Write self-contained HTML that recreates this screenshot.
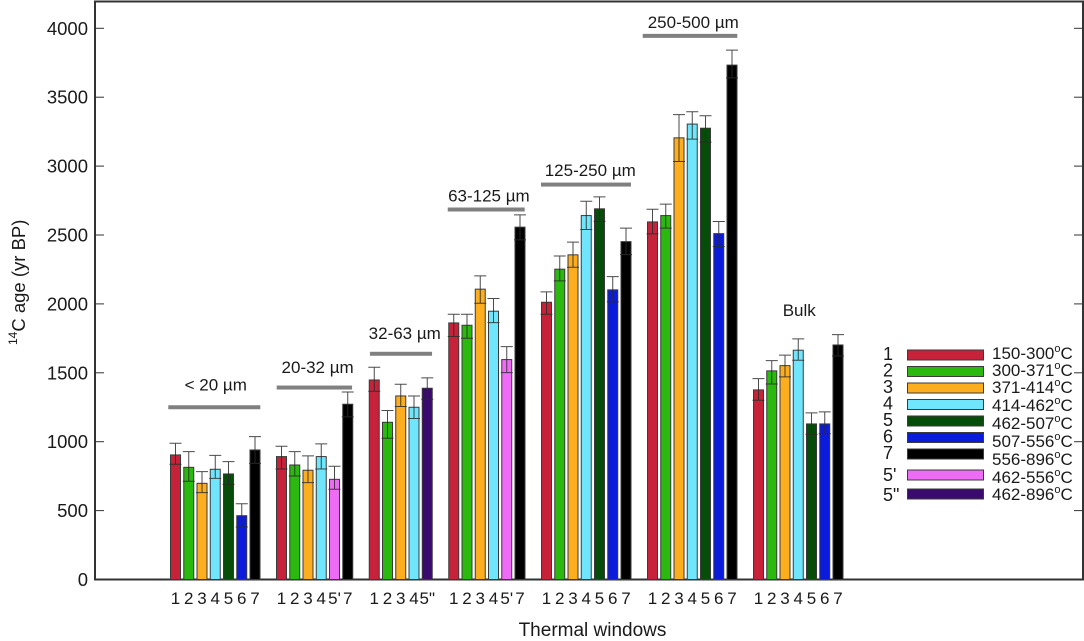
<!DOCTYPE html>
<html lang="en">
<head>
<meta charset="utf-8">
<title>14C age by thermal window and grain size</title>
<style>
html,body{margin:0;padding:0;background:#fff;}
svg{display:block;}
text{font-family:"Liberation Sans",Arial,sans-serif;fill:#1a1a1a;}
</style>
</head>
<body>
<svg id="chart" xmlns="http://www.w3.org/2000/svg" width="1084" height="641" viewBox="0 0 1084 641"></svg>
<script>
const groupNames = ['< 20 µm', '20-32 µm', '32-63 µm', '63-125 µm', '125-250 µm', '250-500 µm', 'Bulk'];
const groupKeys = [
  ['1','2','3','4','5','6','7'],
  ['1','2','3','4',"5'",'7'],
  ['1','2','3','4','5"'],
  ['1','2','3','4',"5'",'7'],
  ['1','2','3','4','5','6','7'],
  ['1','2','3','4','5','6','7'],
  ['1','2','3','4','5','6','7']
];
const ages = [
  [904, 814, 698, 800, 766, 463, 940],
  [892, 831, 793, 892, 727, 1272],
  [1448, 1141, 1332, 1250, 1388],
  [1862, 1845, 2107, 1947, 1596, 2557],
  [2012, 2252, 2356, 2641, 2690, 2102, 2452],
  [2595, 2641, 3205, 3305, 3275, 2510, 3733],
  [1376, 1514, 1552, 1664, 1129, 1129, 1702]
];
const upperBounds = [
  [989, 928, 783, 901, 855, 550, 1037],
  [967, 928, 897, 984, 822, 1361],
  [1540, 1226, 1417, 1332, 1463],
  [1925, 1925, 2203, 2039, 1690, 2646],
  [2087, 2348, 2448, 2745, 2777, 2198, 2550],
  [2687, 2724, 3374, 3394, 3365, 2598, 3842],
  [1458, 1588, 1628, 1746, 1209, 1216, 1777]
];
const lowerBounds = [
  [836, 713, 630, 734, 691, 381, 843],
  [802, 751, 703, 802, 655, 1180],
  [1366, 1025, 1255, 1168, 1308],
  [1763, 1751, 2005, 1864, 1501, 2465],
  [1925, 2167, 2266, 2540, 2600, 2015, 2358],
  [2508, 2550, 3033, 3196, 3174, 2416, 3640],
  [1301, 1419, 1470, 1591, 1054, 1058, 1622]
];
const yTicks = [0, 500, 1000, 1500, 2000, 2500, 3000, 3500, 4000];
const legendKeys = ['1','2','3','4','5','6','7',"5'",'5"'];
const legendRanges = ['150-300','300-371','371-414','414-462','462-507','507-556','556-896','462-556','462-896'];
const legendColors = ['#c6233a','#2bb80f','#fdae1f','#6fe6fb','#064d0a','#0a1bdc','#000000','#ee6bf5','#3b0a6e'];

const NS = 'http://www.w3.org/2000/svg';
const svg = document.getElementById('chart');
const yScale = v => 579.5 - v * 0.1378;
const xScale = slot => 175.5 + slot * 13.25;
const AXIS = '#333333';

function make(tag, attrs, parent) {
  const n = document.createElementNS(NS, tag);
  for (const k in attrs) n.setAttribute(k, attrs[k]);
  (parent || svg).appendChild(n);
  return n;
}
function label(str, x, y, size, anchor, parent) {
  const t = make('text', {x: x, y: y, 'font-size': size, 'text-anchor': anchor || 'middle'}, parent);
  t.textContent = str;
  return t;
}
function slug(s) {
  return s.replace(/'/g, '-prime').replace(/"/g, '-double-prime').replace(/[^a-zA-Z0-9-]+/g, '-').replace(/^-+|-+$/g, '').toLowerCase();
}

/* frame */
const frame = make('rect', {x: 95, y: 1.5, width: 988, height: 578, fill: 'none', stroke: AXIS, 'stroke-width': 2});



/* y ticks */
yTicks.forEach(v => {
  const y = yScale(v);
  if (v > 0) {
    const tl = make('line', {x1: 95, x2: 104, y1: y, y2: y, stroke: AXIS, 'stroke-width': 1});
    
    
    const tr = make('line', {x1: 1074, x2: 1083, y1: y, y2: y, stroke: AXIS, 'stroke-width': 1});
    
    
  }
  const t = label(String(v), 88, y + 6.5, 18.5, 'end');
  
  
});

/* axis titles */
const yTitle = make('text', {transform: 'translate(25,345) rotate(-90)', 'font-size': 18.5, 'text-anchor': 'start'});


const yt1 = make('tspan', {'font-size': 12, dy: -8}, yTitle);
yt1.textContent = '14';
const yt2 = make('tspan', {dy: 8}, yTitle);
yt2.textContent = 'C age (yr BP)';

const xTitle = label('Thermal windows', 592.5, 636, 19);



/* group annotation layout: title offset from group centre, title baseline level and bracket level (axis units), bracket padding in px */
const notes = [
  {dx: 0.5, title: 1370, bracket: 1250, padL: 7.2, padR: 5.3},
  {dx: 3,   title: 1498, bracket: 1393, padL: 4.8, padR: 4.3},
  {dx: 4,   title: 1745, bracket: 1638, padL: 4.3, padR: 4.8},
  {dx: 2,   title: 2743, bracket: 2685, padL: 6,   padR: 4.7},
  {dx: 4,   title: 2928, bracket: 2866, padL: 5.5, padR: 5},
  {dx: 1,   title: 4002, bracket: 3945, padL: 9.8, padR: 5.3},
  {dx: 1,   title: 1912, bracket: null, padL: 0,   padR: 0}
];

/* bars, whiskers, tick labels, brackets — slots advance with one empty slot between groups */
let slot = 0;
groupNames.forEach((name, g) => {
  const keys = groupKeys[g];
  const id = slug(name);
  const first = xScale(slot), last = xScale(slot + keys.length - 1);
  keys.forEach((key, i) => {
    const cx = xScale(slot + i);
    const color = legendColors[legendKeys.indexOf(key)];
    const top = yScale(ages[g][i]);
    const bar = make('rect', {x: cx - 5, y: top, width: 10, height: yScale(0) - top, fill: color, stroke: '#3a3a3a', 'stroke-width': 1});
    
    

    const yUp = yScale(upperBounds[g][i]), yLow = yScale(lowerBounds[g][i]);
    const whisk = make('path', {
      d: 'M' + cx + ' ' + yUp + 'V' + yLow + 'M' + (cx - 6) + ' ' + yUp + 'H' + (cx + 6) + 'M' + (cx - 6) + ' ' + yLow + 'H' + (cx + 6),
      fill: 'none', stroke: '#2a2a2a', 'stroke-width': 1, 'stroke-opacity': 0.85
    });
    
    

    const tick = label(key, cx, 604, 17);
    
    
  });

  const note = notes[g];
  const title = label(name, (first + last) / 2 + note.dx, yScale(note.title), 17);
  
  
  if (note.bracket !== null) {
    const br = make('rect', {x: first - note.padL, y: yScale(note.bracket) - 2, width: last - first + note.padL + note.padR, height: 4, fill: '#808080'});
    
    
  }
  slot += keys.length + 1;
});

/* legend */
const rows = [
  {swatch: 350, key: 360, text: 359},
  {swatch: 366.5, key: 376.5, text: 376},
  {swatch: 383, key: 393, text: 393},
  {swatch: 399.5, key: 409.5, text: 411},
  {swatch: 416, key: 426, text: 429},
  {swatch: 432.5, key: 442.5, text: 447},
  {swatch: 449, key: 459, text: 465},
  {swatch: 470, key: 481, text: 483},
  {swatch: 489, key: 501, text: 500}
];
legendKeys.forEach((key, i) => {
  const r = rows[i];
  const sw = make('rect', {x: 907.5, y: r.swatch, width: 76, height: 10, fill: legendColors[i], stroke: '#3a3a3a', 'stroke-width': 1});
  
  

  const k = label(key, 883, r.key, 18, 'start');
  
  

  const t = make('text', {x: 992, y: r.text, 'font-size': 17, 'text-anchor': 'start'});
  
  
  const a = make('tspan', {}, t);
  a.textContent = legendRanges[i];
  const b = make('tspan', {'font-size': 11, dy: -7}, t);
  b.textContent = 'o';
  const c = make('tspan', {dy: 7}, t);
  c.textContent = 'C';
});
</script>
</body>
</html>
